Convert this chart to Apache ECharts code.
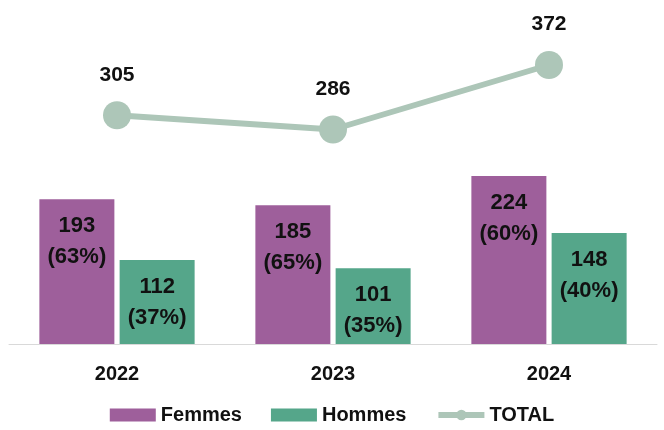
<!DOCTYPE html>
<html>
<head>
<meta charset="utf-8">
<script src="https://cdn.jsdelivr.net/npm/echarts@6/dist/echarts.min.js"></script>
<style>
  html, body { margin: 0; padding: 0; background: #fff; }
  #chart { width: 664px; height: 430px; }
</style>
</head>
<body>
<div id="chart"></div>
<script>
// données
var years = ['2022', '2023', '2024'];
var femmes = [193, 185, 224];
var hommes = [112, 101, 148];
var femmesPct = [63, 65, 60];
var hommesPct = [37, 35, 40];
var total = [305, 286, 372];

var FONT = '"Liberation Sans", Arial, sans-serif';

function barLabel(pcts) {
  return {
    show: true,
    position: 'insideTop',
    distance: 11,
    color: '#111',
    fontFamily: FONT,
    fontWeight: 'bold',
    fontSize: 22,
    lineHeight: 31,
    formatter: function (p) {
      return p.value + '\n(' + pcts[p.dataIndex] + '%)';
    }
  };
}

var chart = echarts.init(document.getElementById('chart'));
chart.setOption({
  animation: false,
  grid: { left: 9, right: 7, top: 44, height: 300, containLabel: false },
  legend: {
    top: 400,
    left: 'center',
    itemWidth: 46,
    itemHeight: 13,
    itemGap: 29,
    textStyle: { fontFamily: FONT, fontWeight: 'bold', fontSize: 20, color: '#111' },
    data: [
      { name: 'Femmes', icon: 'rect' },
      { name: 'Hommes', icon: 'rect' },
      { name: 'TOTAL', lineStyle: { width: 6, color: '#adc6b8' } }
    ]
  },
  xAxis: {
    type: 'category',
    data: years,
    axisLine: { lineStyle: { color: '#d9d9d9', width: 1 } },
    axisTick: { show: false },
    axisLabel: {
      margin: 20,
      fontFamily: FONT,
      fontWeight: 'bold',
      fontSize: 20,
      color: '#111'
    }
  },
  yAxis: {
    type: 'value',
    min: 0,
    max: 400,
    show: false,
    splitLine: { show: false }
  },
  series: [
    {
      name: 'Femmes',
      type: 'bar',
      data: femmes,
      barWidth: 75,
      barGap: '7%',
      itemStyle: { color: '#9e5f9b' },
      label: barLabel(femmesPct),
      z: 2
    },
    {
      name: 'Hommes',
      type: 'bar',
      data: hommes,
      barWidth: 75,
      itemStyle: { color: '#55a68a' },
      label: barLabel(hommesPct),
      z: 2
    },
    {
      name: 'TOTAL',
      type: 'line',
      data: total,
      symbol: 'circle',
      symbolSize: 28,
      lineStyle: { color: '#adc6b8', width: 6 },
      itemStyle: { color: '#adc6b8' },
      label: {
        show: true,
        position: 'top',
        distance: 16,
        color: '#111',
        fontFamily: FONT,
        fontWeight: 'bold',
        fontSize: 21
      },
      z: 3
    }
  ]
});
</script>
</body>
</html>
